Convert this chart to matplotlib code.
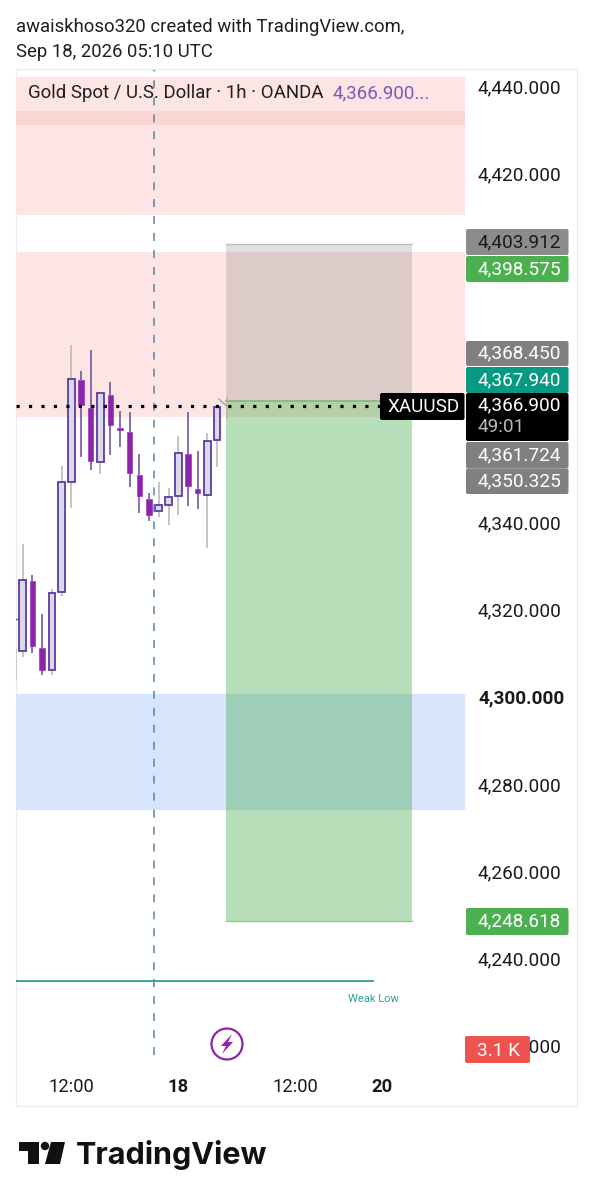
import matplotlib
matplotlib.use("Agg")
import matplotlib.pyplot as plt
from matplotlib.patches import Rectangle, Circle, Polygon, FancyBboxPatch
from matplotlib.transforms import ScaledTranslation

plt.rcParams['font.family'] = ['Roboto', 'DejaVu Sans']

# ---------- data ----------
highs = [4335.2, 4328.1, 4319.1, 4324.9, 4353.1, 4380.8, 4374.9, 4379.7, 4369.8, 4372.4, 4365.8, 4365.5, 4355.8, 4346.9, 4349.5, 4348.0, 4360.0, 4365.5, 4356.5, 4360.6, 4366.7, 4369.0]
lows = [4309.3, 4310.2, 4305.1, 4305.1, 4323.3, 4343.5, 4355.2, 4352.2, 4351.2, 4355.6, 4357.5, 4348.3, 4342.4, 4340.5, 4341.4, 4339.5, 4341.8, 4344.0, 4343.2, 4334.3, 4352.8, 4363.9]
opens = [4310.7, 4326.8, 4311.3, 4306.3, 4324.2, 4349.5, 4372.8, 4366.4, 4354.0, 4369.4, 4361.9, 4360.9, 4351.1, 4345.5, 4342.8, 4344.1, 4346.2, 4355.8, 4347.8, 4346.4, 4359.0, 4366.9]
closes = [4326.9, 4311.9, 4306.3, 4324.0, 4349.4, 4373.0, 4367.1, 4354.3, 4369.8, 4362.5, 4361.3, 4351.5, 4346.2, 4341.9, 4344.1, 4346.0, 4356.1, 4348.5, 4346.9, 4358.9, 4366.7, 4366.9]
left_wick = (4304.0, 4310.9)
left_tick = 4318.0
current_price = 4366.9
supply_top = (4410.6, 4442.3)
supply_band = (4431.3, 4434.5)
supply_mid = (4364.3, 4402.2)
demand = (4274.2, 4300.8)
position_entry = 4367.94
position_stop = 4403.912
position_target = 4248.618
weak_low = 4235.0
y_ticks = [4440, 4420, 4340, 4320, 4300, 4280, 4260, 4240, 4220]
x_tick_pos = [5, 16, 28.1, 37]
x_tick_labels = ['12:00', '18', '12:00', '20']
x_tick_bold = ['18', '20']
tags = [('4,403.912', '#8c8c8c', '#1a1a1a', 229, 255),
        ('4,398.575', '#4caf50', 'white', 256, 282),
        ('4,368.450', '#808080', 'white', 341, 366),
        ('4,367.940', '#089981', 'white', 367, 393),
        ('4,361.724', '#808080', 'white', 442, 468.5),
        ('4,350.325', '#808080', 'white', 468.5, 494),
        ('4,248.618', '#4caf50', 'white', 908, 935)]

# ---------- layout ----------
W, H = 592, 1200
fig = plt.figure(figsize=(W / 100, H / 100), dpi=100, facecolor='white')
AX_L, AX_R, AX_T, AX_B = 16, 465, 70, 1072
ax = fig.add_axes([AX_L / W, 1 - AX_B / H, (AX_R - AX_L) / W, (AX_B - AX_T) / H])
ax.patch.set_visible(False)
ax.set_xlim(-0.689, 45.5)
ax.set_ylim(4214.1, 4443.9)
for s in ax.spines.values():
    s.set_visible(False)

def fx(x): return x / W
def fy(y): return 1 - y / H
def rrect(x0, y0, x1, y1, rad=2, **kw):
    p = FancyBboxPatch((x0 + rad, H - y1 + rad), x1 - x0 - 2 * rad, y1 - y0 - 2 * rad,
                       boxstyle=f'round,pad={rad},rounding_size={rad}', transform=None,
                       edgecolor='none', **kw)
    fig.add_artist(p)
    return p
def ftext(x, y, s, **kw):
    kw.setdefault('va', 'center')
    kw.setdefault('ha', 'left')
    return fig.text(fx(x), fy(y), s, **kw)

fig.add_artist(Rectangle((16, H - 1106), 560.5, 1037, transform=None, facecolor='none',
                         edgecolor='#ececec', lw=0.8, zorder=0))

# zones
def zone(rng, color, **kw):
    ax.axhspan(rng[0], rng[1], facecolor=color, edgecolor='none', zorder=1, **kw)
zone(supply_top, '#fde5e4')
zone(supply_band, '#fbd5d4')
zone(supply_mid, '#fde5e4')
zone(demand, '#d6e4fc')

# position tool
px0, px1 = 20.9, 40.05
ax.add_patch(Rectangle((px0, position_entry), px1 - px0, position_stop - position_entry,
                       facecolor='#808080', alpha=0.25, edgecolor='none', zorder=2))
ax.plot([px0, px1], [position_stop] * 2, color='#bdbdbd', lw=1, zorder=2)
ax.add_patch(Rectangle((px0, position_target), px1 - px0, position_entry - position_target,
                       facecolor='#4caf50', alpha=0.40, edgecolor='none', zorder=2))
ax.plot([px0, px1], [position_target] * 2, color='#8fcb8f', lw=1, zorder=2)
ax.plot([px0, px1], [position_entry] * 2, color='#8fb98a', lw=1.5, zorder=2)

# candles
UP_FACE, UP_EDGE = '#dcd8e8', '#5b3aa5'
DOWN_FACE = '#8e24aa'
for i, (o, h, l, c) in enumerate(zip(opens, highs, lows, closes)):
    up = c >= o
    top, bot = max(o, c), min(o, c)
    wick = '#b4b4b4' if up else '#6b479f'
    ax.plot([i, i], [top, h], color=wick, lw=1.1, zorder=3, solid_capstyle='butt')
    ax.plot([i, i], [l, bot], color=wick, lw=1.1, zorder=3, solid_capstyle='butt')
    if i == len(opens) - 1:
        continue
    if up:
        ax.bar(i, c - o, bottom=o, width=0.68, facecolor=UP_FACE, edgecolor=UP_EDGE, lw=1.3, zorder=4)
    else:
        ax.bar(i, o - c, bottom=c, width=0.55, facecolor=DOWN_FACE, edgecolor=DOWN_FACE, lw=0.4, zorder=4)
ax.plot([-0.66, -0.66], left_wick, color='#c4c4c4', lw=1.2, zorder=3)
ax.plot([-0.66, -0.3], [left_tick] * 2, color='#5b6f80', lw=1.0, zorder=3)
ax.plot([20.2, 20.9], [4368.4, 4367.0], color='#9a9a9a', lw=0.9, zorder=5)

# vertical dashed line
ax.plot([13.5, 13.5], [4218.0, 4443.9], color='#4f86ad', lw=1.1, ls=(0, (5.2, 5.9)), zorder=5)

# current price dotted line
ax.plot([-0.689, 45.5], [current_price] * 2, color='black', lw=2.3, ls=(0, (1, 2.9)),
        dash_capstyle='butt', zorder=6)

# weak low
ax.plot([-0.689, 36.05], [weak_low] * 2, color='#1f9488', lw=1.2, zorder=3)
ax.text(36.05, 4230.9, 'Weak Low', color='#2aa39a', fontsize=8.0, ha='center', va='center', zorder=5)

# y axis
ax.yaxis.tick_right()
ax.set_yticks(y_ticks)
ax.set_yticklabels([f'{v:,.3f}' for v in y_ticks])
ax.tick_params(axis='y', length=0, pad=9.4, labelsize=13.7, labelcolor='#1a1a1a')
up_shift = ScaledTranslation(0, 0.6 / 100, fig.dpi_scale_trans)
for lab, v in zip(ax.get_yticklabels(), y_ticks):
    lab.set_transform(lab.get_transform() + up_shift)
    if v == 4300:
        lab.set_fontweight('bold')

# x axis
ax.set_xticks(x_tick_pos)
ax.set_xticklabels(x_tick_labels)
ax.tick_params(axis='x', length=0, pad=4.2, labelsize=13.2, labelcolor='#1a1a1a')
for lab in ax.get_xticklabels():
    if lab.get_text() in x_tick_bold:
        lab.set_fontweight('bold')

# header
ftext(16, 27, 'awaiskhoso320 created with TradingView.com,', fontsize=13.35, color='#1f1f1f')
ftext(16, 52, 'Sep 18, 2026 05:10 UTC', fontsize=13.35, color='#1f1f1f')
ftext(28, 93, 'Gold Spot / U.S. Dollar · 1h · OANDA', fontsize=13.4, color='#1f1f1f', zorder=8)
ftext(333, 93, '4,366.900...', fontsize=13.5, color='#7e57c2', zorder=8)

# price tags
for s, bg, fg, y0, y1 in tags:
    rrect(466, y0, 568.5, y1, facecolor=bg, zorder=7)
    ftext(478, (y0 + y1) / 2, s, color=fg, fontsize=13.7, zorder=8)
rrect(466, 393, 568.5, 441, facecolor='black', zorder=7)
ftext(478, 405, '4,366.900', color='white', fontsize=13.7, zorder=8)
ftext(478, 427, '49:01', color='#b8b8b8', fontsize=13.7, zorder=8)
rrect(380, 393, 464.5, 420, facecolor='black', zorder=7)
ftext(387, 407.5, 'XAUUSD', color='white', fontsize=13.6, zorder=8)
rrect(465, 1036, 530, 1063, facecolor='#ef5350', zorder=7)
ftext(477, 1050.5, '3.1 K', color='white', fontsize=13.7, zorder=8)

# lightning icon
fig.add_artist(Circle((227, H - 1044), 15.5, transform=None, facecolor='white', edgecolor='#8e24aa', lw=1.6, zorder=8))
bolt = [(232, 1034), (221, 1046), (226, 1046), (222, 1054), (233, 1042), (228, 1042)]
fig.add_artist(Polygon([(x, H - y) for x, y in bolt], closed=True, transform=None,
                       facecolor='#8e24aa', edgecolor='none', zorder=9))

# TradingView logo
LOGO = '#111111'
t_shape = [(19, 1142), (39, 1142), (39, 1164), (28, 1164), (28, 1151), (19, 1151)]
slash = [(51, 1142), (65, 1142), (60, 1164), (45, 1164)]
for shape in (t_shape, slash):
    fig.add_artist(Polygon([(x, H - y) for x, y in shape], closed=True, transform=None,
                           facecolor=LOGO, edgecolor='none', zorder=8))
fig.add_artist(Circle((45, H - 1146), 4.2, transform=None, facecolor=LOGO, edgecolor='none', zorder=8))
ftext(76, 1155, 'TradingView', fontfamily='Inter', fontweight='bold', fontsize=22, color=LOGO, zorder=8)

fig.savefig('out.png', dpi=100, facecolor='white')
